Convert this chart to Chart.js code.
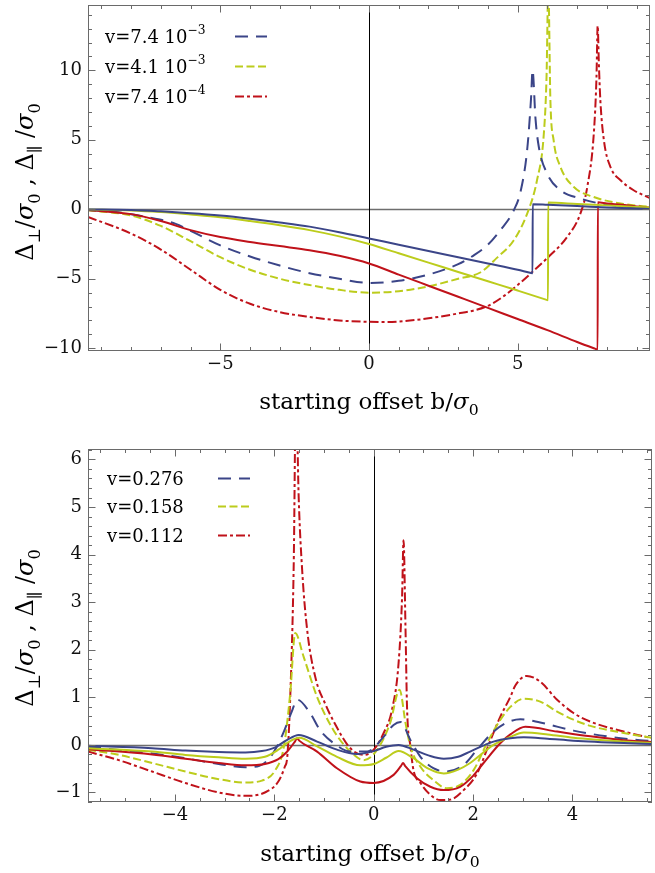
<!DOCTYPE html>
<html>
<head>
<meta charset="utf-8">
<script src="https://cdn.jsdelivr.net/npm/chart.js@4.4.1/dist/chart.umd.min.js"></script>
<style>
  html, body { margin: 0; padding: 0; background: #fff; }
  canvas { position: absolute; left: 0; }
  #top { top: 0; }
  #bottom { top: 430px; }
</style>
</head>
<body>
<canvas id="top" width="655" height="420"></canvas>
<canvas id="bottom" width="655" height="443"></canvas>
<script>
// ---- upper panel: slow encounters ----
const topLabels = ['v=7.4 10', 'v=4.1 10', 'v=7.4 10'];
const topPowers = ['\u22123', '\u22123', '\u22124'];
const topXTicks = [-5, 0, 5];
const topYTicks = [-10, -5, 0, 5, 10];

const topBlueSolidX = [-9.45, -8, -7, -6, -5, -4, -3, -2, -1, 0, 1, 2, 3, 4, 5, 5.45, 5.5, 5.505, 6, 7, 8, 9, 9.45];
const topBlueSolidY = [-0.01, -0.05, -0.15, -0.28, -0.45, -0.68, -0.95, -1.25, -1.65, -2.1, -2.55, -3.0, -3.45, -3.9, -4.35, -4.58, -4.6, 0.36, 0.32, 0.23, 0.13, 0.05, 0.02];
const topLimeSolidX = [-9.45, -8, -7, -6, -5, -4, -3, -2, -1, 0, 1, 2, 3, 4, 5, 5.95, 6.02, 6.025, 7, 8, 9, 9.45];
const topLimeSolidY = [-0.02, -0.08, -0.2, -0.38, -0.58, -0.85, -1.15, -1.5, -1.95, -2.5, -3.17, -3.84, -4.51, -5.18, -5.85, -6.5, -6.55, 0.48, 0.38, 0.28, 0.17, 0.12];
const topRedSolidX = [-9.45, -8, -7, -6, -5, -4, -3, -2, -1, 0, 1, 2, 3, 4, 5, 6, 7, 7.6, 7.69, 7.695, 8, 8.5, 9, 9.45];
const topRedSolidY = [-0.05, -0.35, -0.85, -1.5, -2.0, -2.35, -2.65, -2.95, -3.35, -3.9, -4.7, -5.5, -6.3, -7.1, -7.9, -8.7, -9.55, -10.03, -10.1, 0.5, 0.42, 0.32, 0.2, 0.12];

const topBlueDashX = [-9.45, -8.5, -7.5, -6.5, -6, -5, -4, -3, -2, -1, 0, 1, 2, 3, 3.5, 4, 4.42, 4.87, 5.1, 5.32, 5.45, 5.5, 5.6, 5.71, 5.99, 6.44, 7.11, 7.78, 8.8, 9.45];
const topBlueDashY = [-0.05, -0.2, -0.55, -1.05, -1.55, -2.6, -3.4, -4.05, -4.6, -5.0, -5.3, -5.15, -4.7, -3.95, -3.35, -2.55, -1.5, -0.07, 1.3, 4.3, 8.0, 10.0, 6.5, 4.5, 2.57, 1.37, 0.77, 0.41, 0.17, 0.06];
const topLimeDashX = [-9.45, -8, -7, -6, -5, -4, -3, -2, -1, 0, 1, 2, 3, 3.74, 4.3, 4.87, 5.32, 5.65, 5.88, 5.97, 6.03, 6.1, 6.21, 6.44, 6.89, 7.56, 8.46, 9.45];
const topLimeDashY = [-0.07, -0.45, -1.2, -2.3, -3.45, -4.35, -5.0, -5.45, -5.8, -6.0, -5.9, -5.55, -5.0, -4.55, -3.5, -2.23, -0.31, 2.09, 5.45, 9.5, 16, 7.84, 4.96, 3.04, 1.6, 0.88, 0.41, 0.17];
const topRedDashX = [-9.45, -8, -7, -6, -5, -4, -3, -2, -1, 0, 0.5, 1, 2, 3, 3.5, 4, 4.5, 5, 5.5, 6, 6.66, 7.11, 7.34, 7.56, 7.65, 7.69, 7.73, 7.78, 7.9, 8.12, 8.46, 8.9, 9.45];
const topRedDashY = [-0.55, -1.75, -2.9, -4.35, -5.8, -6.8, -7.4, -7.75, -8.0, -8.1, -8.12, -8.08, -7.85, -7.5, -7.3, -6.95, -6.3, -5.45, -4.5, -3.5, -2.0, -0.3, 1.6, 5.45, 9.5, 13.2, 10.5, 7.84, 4.96, 3.04, 2.09, 1.37, 0.8];

// ---- lower panel: fast encounters ----
const bottomLabels = ['v=0.276', 'v=0.158', 'v=0.112'];
const bottomXTicks = [-4, -2, 0, 2, 4];
const bottomYTicks = [-1, 0, 1, 2, 3, 4, 5, 6];

const botBlueSolidX = [-5.75, -4.46, -3.79, -3.12, -2.58, -2.25, -1.98, -1.75, -1.51, -1.14, -0.74, -0.34, 0, 0.25, 0.5, 0.8, 1.1, 1.41, 1.7, 1.94, 2.41, 2.75, 3.02, 3.5, 4.02, 5.03, 5.6];
const botBlueSolidY = [-0.02, -0.07, -0.12, -0.15, -0.16, -0.13, -0.05, 0.1, 0.21, 0.07, -0.1, -0.19, -0.13, -0.04, 0.0, -0.1, -0.22, -0.29, -0.25, -0.14, 0.07, 0.14, 0.16, 0.13, 0.09, 0.04, 0.02];
const botLimeSolidX = [-5.75, -4.46, -3.79, -3.12, -2.58, -2.19, -1.92, -1.7, -1.5, -1.14, -0.74, -0.27, 0, 0.25, 0.5, 0.8, 1.1, 1.41, 1.7, 1.94, 2.41, 2.75, 3.02, 3.5, 4.02, 5.03, 5.6];
const botLimeSolidY = [-0.07, -0.14, -0.21, -0.26, -0.29, -0.25, -0.1, 0.07, 0.15, -0.03, -0.25, -0.43, -0.4, -0.27, -0.13, -0.28, -0.5, -0.6, -0.52, -0.38, 0.0, 0.17, 0.26, 0.22, 0.15, 0.07, 0.04];
const botRedSolidX = [-5.75, -4.46, -3.79, -3.12, -2.58, -2.19, -1.92, -1.75, -1.58, -1.54, -1.5, -1.14, -0.74, -0.27, 0, 0.4, 0.55, 0.59, 0.63, 0.87, 1.14, 1.41, 1.74, 2.0, 2.21, 2.55, 2.75, 3.05, 3.69, 4.36, 5.03, 5.6];
const botRedSolidY = [-0.09, -0.2, -0.29, -0.38, -0.43, -0.4, -0.3, -0.15, 0.08, 0.14, 0.09, -0.14, -0.49, -0.77, -0.8, -0.63, -0.44, -0.38, -0.44, -0.7, -0.88, -0.95, -0.88, -0.65, -0.38, 0.04, 0.22, 0.38, 0.28, 0.18, 0.1, 0.06];

const botBlueDashX = [-5.75, -4.46, -3.79, -3.12, -2.58, -2.3, -2.1, -1.95, -1.8, -1.65, -1.54, -1.28, -1.08, -0.81, -0.47, -0.13, 0.2, 0.4, 0.54, 0.74, 0.94, 1.2, 1.47, 1.81, 2.08, 2.41, 2.68, 2.95, 3.35, 4.02, 4.69, 5.36, 5.6];
const botBlueDashY = [-0.04, -0.18, -0.28, -0.4, -0.47, -0.44, -0.28, -0.04, 0.3, 0.7, 0.95, 0.67, 0.31, 0.04, -0.14, -0.14, 0.17, 0.42, 0.48, 0.1, -0.25, -0.49, -0.56, -0.42, -0.1, 0.28, 0.47, 0.54, 0.47, 0.3, 0.18, 0.1, 0.08];
const botLimeDashX = [-5.75, -5.13, -4.46, -3.79, -3.12, -2.58, -2.25, -1.98, -1.81, -1.68, -1.58, -1.41, -1.14, -0.81, -0.47, -0.2, 0.07, 0.33, 0.52, 0.64, 0.74, 0.94, 1.2, 1.47, 1.74, 2.01, 2.28, 2.55, 2.75, 3.02, 3.35, 3.69, 4.02, 4.36, 5.03, 5.6];
const botLimeDashY = [-0.1, -0.21, -0.38, -0.56, -0.72, -0.79, -0.75, -0.53, -0.05, 1.09, 2.35, 1.85, 1.01, 0.31, -0.14, -0.32, -0.1, 0.46, 1.16, 0.46, -0.04, -0.46, -0.74, -0.91, -0.84, -0.53, 0.04, 0.53, 0.8, 0.97, 0.91, 0.7, 0.53, 0.4, 0.25, 0.15];
const botRedDashX = [-5.75, -5.13, -4.46, -3.79, -3.12, -2.58, -2.19, -1.92, -1.79, -1.74, -1.68, -1.61, -1.565, -1.51, -1.44, -1.34, -1.17, -0.97, -0.81, -0.47, -0.2, 0, 0.2, 0.37, 0.5, 0.57, 0.6, 0.64, 0.67, 0.74, 0.8, 0.94, 1.14, 1.34, 1.54, 1.81, 2.08, 2.35, 2.55, 2.75, 2.85, 3.08, 3.35, 3.69, 4.02, 4.36, 5.03, 5.6];
const botRedDashY = [-0.14, -0.32, -0.56, -0.8, -1.0, -1.07, -1.0, -0.77, -0.46, -0.25, 1.01, 3.8, 7.5, 5.2, 3.67, 2.42, 1.4, 0.85, 0.5, -0.07, -0.21, -0.1, 0.25, 0.75, 1.72, 3.1, 4.3, 2.42, 0.8, -0.04, -0.53, -0.8, -1.05, -1.16, -1.15, -0.95, -0.6, 0.1, 0.6, 1.01, 1.25, 1.45, 1.33, 0.95, 0.67, 0.49, 0.28, 0.14];

// ---- styling ----
const NAVY = '#3b4588';
const LIME = '#bccc1c';
const CRIMSON = '#c0121a';
const DASH_LONG = [13, 8];
const DASH_SHORT = [8, 3.5];
const DASH_DOT = [9, 3, 3, 3];
const SERIF = '"DejaVu Serif", serif';

const steps = (from, to, step) => {
  const out = [];
  for (let v = from; v <= to + 1e-9; v += step) out.push(+v.toFixed(3));
  return out;
};
const minus = (v) => (v < 0 ? '\u2212' + Math.abs(v) : String(v));
const zip = (xs, ys) => xs.map((x, i) => ({ x, y: ys[i] }));
const curve = (xs, ys, color, dash) => ({
  data: zip(xs, ys),
  borderColor: color,
  borderWidth: 2,
  borderDash: dash || [],
  pointRadius: 0,
  fill: false,
  cubicInterpolationMode: 'monotone',
});

// writes a run of text pieces; kind '' normal, 'i' italic, 'sub'/'sup' small shifted
function drawRich(ctx, parts, x, y, size, align) {
  const fontOf = (k) => {
    const s = k === 'sub' || k === 'sup' ? size * 0.68 : size;
    return `${k === 'i' ? 'italic ' : ''}${s}px ${SERIF}`;
  };
  let w = 0;
  parts.forEach(([t, k]) => { ctx.font = fontOf(k); w += ctx.measureText(t).width; });
  let cx = align === 'center' ? x - w / 2 : x;
  ctx.textAlign = 'left';
  ctx.textBaseline = 'alphabetic';
  parts.forEach(([t, k]) => {
    ctx.font = fontOf(k);
    const dy = k === 'sub' ? size * 0.28 : k === 'sup' ? -size * 0.5 : 0;
    ctx.fillText(t, cx, y + dy);
    cx += ctx.measureText(t).width;
  });
}

const yTitleParts = [['\u0394', ''], ['\u22a5', 'sub'], ['/', ''], ['\u03c3', 'i'], ['0', 'sub'], [' , ', ''],
  ['\u0394', ''], ['\u2225', 'sub'], [' /', ''], ['\u03c3', 'i'], ['0', 'sub']];
const xTitleParts = [['starting offset b/', ''], ['\u03c3', 'i'], ['0', 'sub']];

// frame with inward ticks, plus the two zero axes
const frameTicks = {
  id: 'frameTicks',
  beforeDatasetsDraw(chart) {
    const { ctx, chartArea: a, scales: { x, y } } = chart;
    const py = Math.round(y.getPixelForValue(0)) + 0.5;
    const px = Math.round(x.getPixelForValue(0)) + 0.5;
    ctx.save();
    ctx.strokeStyle = '#6e6e6e';
    ctx.lineWidth = 1.5;
    ctx.beginPath(); ctx.moveTo(a.left, py); ctx.lineTo(a.right, py); ctx.stroke();
    ctx.strokeStyle = '#000';
    ctx.lineWidth = 1;
    ctx.beginPath(); ctx.moveTo(px, a.top); ctx.lineTo(px, a.bottom); ctx.stroke();
    ctx.restore();
  },
  afterDatasetsDraw(chart, args, o) {
    const { ctx, chartArea: a, scales: { x, y } } = chart;
    ctx.save();
    ctx.strokeStyle = '#6a6a6a';
    ctx.lineWidth = 1;
    ctx.strokeRect(a.left + 0.5, a.top + 0.5, a.right - a.left - 1, a.bottom - a.top - 1);
    ctx.beginPath();
    const markX = (vals, len) => vals.forEach((v) => {
      const p = Math.round(x.getPixelForValue(v)) + 0.5;
      ctx.moveTo(p, a.bottom); ctx.lineTo(p, a.bottom - len);
      ctx.moveTo(p, a.top); ctx.lineTo(p, a.top + len);
    });
    const markY = (vals, len) => vals.forEach((v) => {
      const p = Math.round(y.getPixelForValue(v)) + 0.5;
      ctx.moveTo(a.left, p); ctx.lineTo(a.left + len, p);
      ctx.moveTo(a.right, p); ctx.lineTo(a.right - len, p);
    });
    markX(o.xMinor, 4); markX(o.xMajor, 7.5);
    markY(o.yMinor, 4); markY(o.yMajor, 7.5);
    ctx.stroke();
    ctx.restore();
  },
};

// axis titles and the line key
const annotations = {
  id: 'annotations',
  afterDraw(chart, args, o) {
    const { ctx, chartArea: a } = chart;
    ctx.save();
    ctx.fillStyle = '#000';
    drawRich(ctx, xTitleParts, (a.left + a.right) / 2, o.xTitleY, 23, 'center');
    ctx.save();
    ctx.translate(o.yTitleX, o.yTitleCenter);
    ctx.rotate(-Math.PI / 2);
    drawRich(ctx, yTitleParts, 0, 0, 24, 'center');
    ctx.restore();
    o.labels.forEach((label, i) => {
      const ds = chart.data.datasets[o.keySets[i]];
      const parts = [[label, '']];
      if (o.powers) parts.push([o.powers[i], 'sup']);
      drawRich(ctx, parts, o.textX, o.textY + i * o.rowGap, 18, 'left');
      const ly = Math.round(o.lineY + i * o.rowGap) + 0.5;
      ctx.strokeStyle = ds.borderColor;
      ctx.lineWidth = 2;
      ctx.setLineDash(ds.borderDash);
      ctx.beginPath(); ctx.moveTo(o.lineX, ly); ctx.lineTo(o.lineX + o.lineW, ly); ctx.stroke();
    });
    ctx.setLineDash([]);
    ctx.restore();
  },
};

function scales(xMin, xMax, yMin, yMax, xTicks, yTicks, xHeight) {
  const tickFont = { family: SERIF, size: 18 };
  return {
    x: {
      type: 'linear', min: xMin, max: xMax,
      grid: { display: false, drawTicks: false }, border: { display: false },
      ticks: { font: tickFont, color: '#111', padding: 3, maxRotation: 0, autoSkip: false, callback: minus },
      afterBuildTicks: (s) => { s.ticks = xTicks.map((value) => ({ value })); },
      afterFit: (s) => { s.height = xHeight; s.paddingLeft = 0; s.paddingRight = 0; },
    },
    y: {
      type: 'linear', min: yMin, max: yMax,
      grid: { display: false, drawTicks: false }, border: { display: false },
      ticks: { font: tickFont, color: '#111', padding: 6, autoSkip: false, callback: minus },
      afterBuildTicks: (s) => { s.ticks = yTicks.map((value) => ({ value })); },
      afterFit: (s) => { s.width = 88; s.paddingTop = 0; s.paddingBottom = 0; },
    },
  };
}

const common = {
  responsive: false,
  animation: false,
  devicePixelRatio: 1,
  events: [],
};

new Chart(document.getElementById('top'), {
  type: 'line',
  data: {
    datasets: [
      curve(topBlueSolidX, topBlueSolidY, NAVY),
      curve(topLimeSolidX, topLimeSolidY, LIME),
      curve(topRedSolidX, topRedSolidY, CRIMSON),
      curve(topBlueDashX, topBlueDashY, NAVY, DASH_LONG),
      curve(topLimeDashX, topLimeDashY, LIME, DASH_SHORT),
      curve(topRedDashX, topRedDashY, CRIMSON, DASH_DOT),
    ],
  },
  options: {
    ...common,
    layout: { padding: { left: 0, right: 5, top: 5, bottom: 0 } },
    scales: scales(-9.45, 9.45, -10.2, 14.7, topXTicks, topYTicks, 69),
    plugins: {
      legend: { display: false },
      tooltip: { enabled: false },
      frameTicks: { xMajor: topXTicks, xMinor: steps(-9, 9, 1), yMajor: topYTicks, yMinor: steps(-10, 14, 1) },
      annotations: {
        labels: topLabels, powers: topPowers, keySets: [3, 4, 5],
        textX: 105, textY: 43, rowGap: 30, lineX: 235, lineY: 36, lineW: 32,
        xTitleY: 409, yTitleX: 33, yTitleCenter: 182,
      },
    },
  },
  plugins: [frameTicks, annotations],
});

new Chart(document.getElementById('bottom'), {
  type: 'line',
  data: {
    datasets: [
      curve(botBlueSolidX, botBlueSolidY, NAVY),
      curve(botLimeSolidX, botLimeSolidY, LIME),
      curve(botRedSolidX, botRedSolidY, CRIMSON),
      curve(botBlueDashX, botBlueDashY, NAVY, DASH_LONG),
      curve(botLimeDashX, botLimeDashY, LIME, DASH_SHORT),
      curve(botRedDashX, botRedDashY, CRIMSON, DASH_DOT),
    ],
  },
  options: {
    ...common,
    layout: { padding: { left: 0, right: 3, top: 19, bottom: 0 } },
    scales: scales(-5.75, 5.6, -1.2, 6.22, bottomXTicks, bottomYTicks, 71),
    plugins: {
      legend: { display: false },
      tooltip: { enabled: false },
      frameTicks: { xMajor: bottomXTicks, xMinor: steps(-5.5, 5.5, 0.5), yMajor: bottomYTicks, yMinor: steps(-1.2, 6.2, 0.2) },
      annotations: {
        labels: bottomLabels, powers: null, keySets: [3, 4, 5],
        textX: 107, textY: 55, rowGap: 28.4, lineX: 218, lineY: 47.7, lineW: 32,
        xTitleY: 431, yTitleX: 33, yTitleCenter: 198,
      },
    },
  },
  plugins: [frameTicks, annotations],
});
</script>
</body>
</html>
